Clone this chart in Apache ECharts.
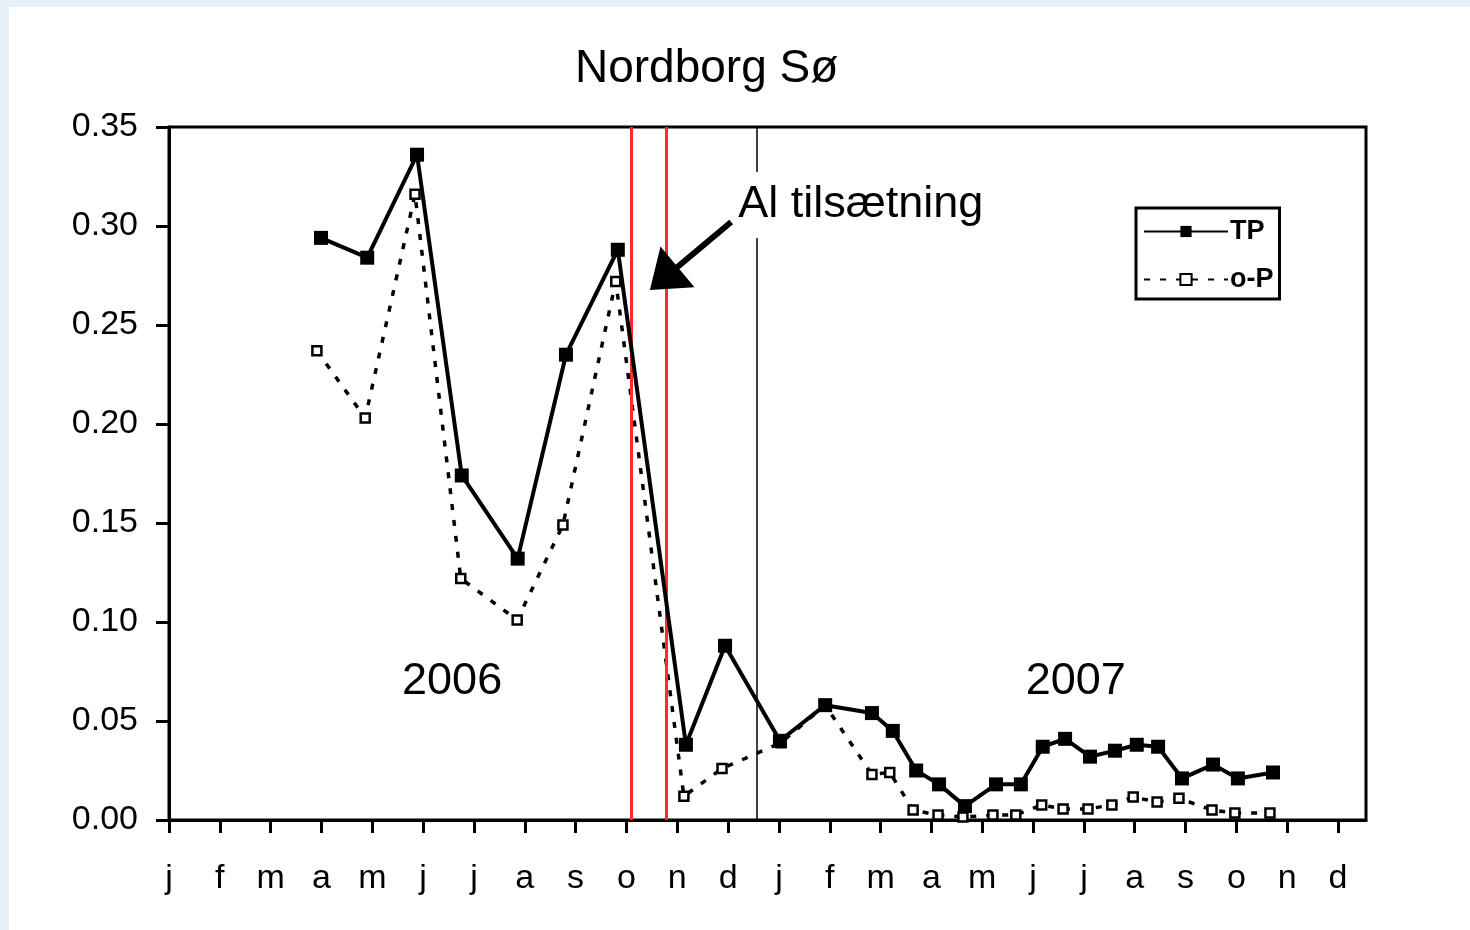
<!DOCTYPE html>
<html>
<head>
<meta charset="utf-8">
<script src="https://cdn.jsdelivr.net/npm/echarts@6/dist/echarts.min.js"></script>
<style>
html,body{margin:0;padding:0;width:1470px;height:930px;background:#e6f0f8;overflow:hidden;}
#panel{position:absolute;left:9px;top:7px;width:1461px;height:923px;background:#ffffff;}
#chart{position:absolute;left:0;top:0;width:1470px;height:930px;}
</style>
</head>
<body>
<div id="panel"></div>
<div id="chart"></div>
<script>
// x positions are in months from mid-January 2006 (0) to mid-December 2007 (23)
const monthLabels = ['j','f','m','a','m','j','j','a','s','o','n','d','j','f','m','a','m','j','j','a','s','o','n','d'];
const monthTicks = [0,1,2,3,4,5,6,7,8,9,10,11,12,13,14,15,16,17,18,19,20,21,22,23];

const tpX = [2.99,3.90,4.88,5.76,6.86,7.81,8.83,10.17,10.94,12.02,12.91,13.83,14.24,14.70,15.15,15.66,16.27,16.76,17.19,17.63,18.12,18.61,19.04,19.46,19.93,20.54,21.03,21.72];
const tpY = [0.294,0.284,0.336,0.174,0.132,0.235,0.288,0.038,0.088,0.040,0.058,0.054,0.045,0.025,0.018,0.007,0.018,0.018,0.037,0.041,0.032,0.035,0.038,0.037,0.021,0.028,0.021,0.024];

const opX = [2.91,3.86,4.84,5.74,6.85,7.75,8.79,10.13,10.88,12.04,12.91,13.83,14.18,14.64,15.13,15.62,16.21,16.66,17.17,17.59,18.08,18.55,18.97,19.44,19.87,20.52,20.97,21.66];
const opY = [0.237,0.203,0.316,0.122,0.101,0.149,0.272,0.012,0.026,0.039,0.058,0.023,0.024,0.005,0.0025,0.0015,0.0025,0.0025,0.0076,0.0056,0.0056,0.0076,0.0116,0.0091,0.011,0.005,0.0035,0.0035];

const alStart = 9.09, alEnd = 9.78;   // red lines: Al dosing period
const yearBreak = 11.57;               // year boundary line
const arrowFrom = [11.06, 0.302], arrowTo = [9.733, 0.2735];
const annText = 'Al tilsætning', annPos = [13.61, 0.3106];
const yearLabels = [{text:'2006', pos:[5.57, 0.0697]}, {text:'2007', pos:[17.84, 0.0697]}];

const FONT = 'Liberation Sans, Arial, sans-serif';
const chart = echarts.init(document.getElementById('chart'), null, {renderer:'canvas'});

const zip = (xs, ys) => xs.map((x,i)=>[x, ys[i]]);

chart.setOption({
  animation:false,
  textStyle:{fontFamily:FONT, color:'#000'},
  title:{
    text:'Nordborg Sø', left:570, top:41,
    textStyle:{fontFamily:FONT, fontSize:46, fontWeight:'normal', color:'#000'}
  },
  legend:{
    left:1136, top:208, orient:'vertical',
    itemWidth:84, itemHeight:14, itemGap:21,
    padding:[10,6,6,7],
    borderColor:'#000', borderWidth:3, backgroundColor:'#fff',
    textStyle:{fontFamily:FONT, fontSize:27, fontWeight:'bold', color:'#000', padding:[0,0,0,-3]},
    data:['TP','o-P']
  },
  grid:{left:169, top:127, right:104, bottom:110, show:true, borderColor:'#000', borderWidth:3, outerBoundsMode:'none'},
  xAxis:{
    type:'value', min:0, max:23.55, interval:1,
    splitLine:{show:false},
    axisLine:{show:true, onZero:false, lineStyle:{color:'#000', width:3}},
    axisTick:{show:true, inside:false, length:13, lineStyle:{color:'#000', width:3}, customValues:monthTicks},
    axisLabel:{show:true, margin:42, fontSize:34, color:'#000', fontFamily:FONT,
      customValues:monthTicks,
      formatter:(v)=>{const i=Math.round(v); return Math.abs(v-i)<1e-6 && monthLabels[i]!==undefined ? monthLabels[i] : '';}}
  },
  yAxis:{
    type:'value', min:0, max:0.35, interval:0.05,
    splitLine:{show:false},
    axisLine:{show:true, lineStyle:{color:'#000', width:3}},
    axisTick:{show:true, inside:false, length:13, lineStyle:{color:'#000', width:3}},
    axisLabel:{margin:31, fontSize:34, color:'#000', fontFamily:FONT, formatter:(v)=>v.toFixed(2)}
  },
  series:[
    {
      name:'o-P', type:'line', z:2,
      data:zip(opX, opY),
      symbol:'rect', symbolSize:9,
      lineStyle:{color:'#000', width:3.5, type:[6,10]},
      itemStyle:{color:'#fff', borderColor:'#000', borderWidth:2.5},
      markLine:{
        silent:true, z:3, animation:false,
        symbol:['none','none'],
        label:{show:false},
        data:[
          {xAxis:alStart, lineStyle:{color:'#ff2b2b', width:3, type:'solid'}},
          {xAxis:alEnd, lineStyle:{color:'#ff2b2b', width:3, type:'solid'}},
          {xAxis:yearBreak, lineStyle:{color:'#000', width:1.5, type:'solid'}}
        ]
      }
    },
    {
      name:'TP', type:'line', z:4,
      data:zip(tpX, tpY),
      symbol:'rect', symbolSize:14,
      lineStyle:{color:'#000', width:4},
      itemStyle:{color:'#000'},
      markLine:{
        silent:true, z:6, animation:false,
        symbol:['none','triangle'],
        symbolSize:[0,[53,36]],
        label:{show:false},
        lineStyle:{color:'#000', width:6, type:'solid'},
        data:[[{coord:arrowFrom}, {coord:arrowTo, symbol:'triangle', symbolSize:[53,36], itemStyle:{color:'#000'}}]]
      },
      markPoint:{
        silent:true, z:10, animation:false,
        symbol:'rect', symbolSize:0,
        data:[
          {coord:annPos, label:{show:true, position:'inside', formatter:annText, fontSize:45, color:'#000', fontFamily:FONT, backgroundColor:'#fff', padding:[8,4], lineHeight:50}},
          ...yearLabels.map(y=>({coord:y.pos, label:{show:true, position:'inside', formatter:y.text, fontSize:45, color:'#000', fontFamily:FONT}}))
        ]
      }
    }
  ]
});
</script>
</body>
</html>
